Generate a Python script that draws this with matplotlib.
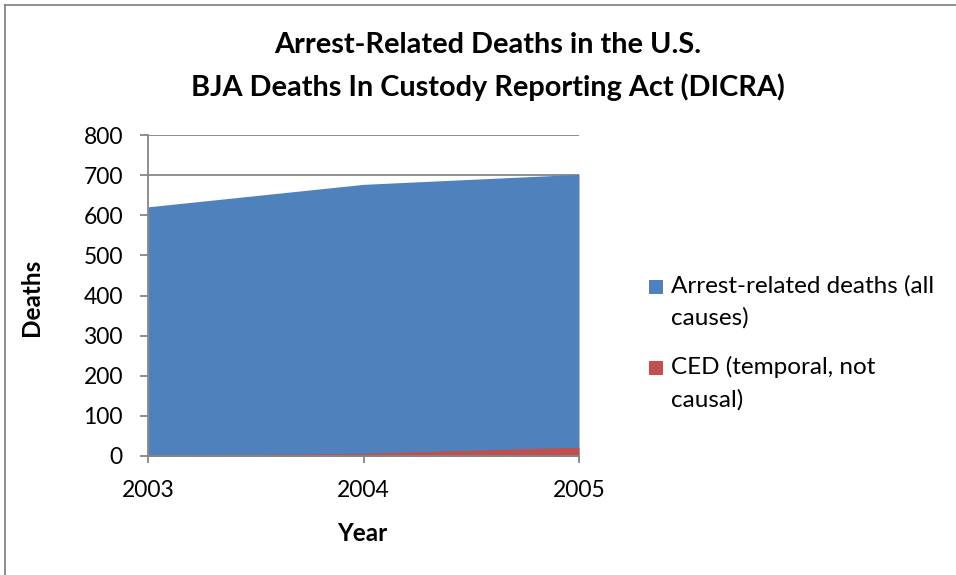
import matplotlib
matplotlib.use("Agg")
import matplotlib.pyplot as plt
from matplotlib.patches import Rectangle
from matplotlib.lines import Line2D

plt.rcParams['font.family'] = ['Lato', 'DejaVu Sans']

years = ["2003", "2004", "2005"]
arrest_deaths = [621, 677, 702]
ced_deaths = [1, 7, 22]
series_labels = ["Arrest-related deaths (all\ncauses)", "CED (temporal, not\ncausal)"]
yticks = [0, 100, 200, 300, 400, 500, 600, 700, 800]

BLUE = "#4F81BD"
RED = "#C0504D"
GRAY = "#868686"

W, H = 956, 575
fig = plt.figure(figsize=(W / 100, H / 100), dpi=100)
fig.patch.set_facecolor("white")

# outer chart frame (only top & left visible in crop)
fig.add_artist(Line2D([4.5 / W, 4.5 / W], [0, 1 - 4.5 / H], transform=fig.transFigure, color=GRAY, lw=1.3))
fig.add_artist(Line2D([4.5 / W, 1], [1 - 4.5 / H, 1 - 4.5 / H], transform=fig.transFigure, color=GRAY, lw=1.3))

ax = fig.add_axes([148 / W, (H - 456) / H, 431 / W, 321 / H])
x = list(range(len(years)))
ax.fill_between(x, 0, arrest_deaths, color=BLUE, lw=0, zorder=2)
ax.fill_between(x, 0, ced_deaths, color=RED, lw=0, zorder=3)

ax.set_xlim(0, len(years) - 1)
ax.set_ylim(0, 800)
ax.set_yticks(yticks)
ax.set_xticks(x)
ax.set_xticklabels(years)
ax.yaxis.grid(True, color=GRAY, lw=1.3, zorder=1)
ax.set_axisbelow(True)
for s in ["top", "right"]:
    ax.spines[s].set_visible(False)
for s in ["left", "bottom"]:
    ax.spines[s].set_color(GRAY)
    ax.spines[s].set_linewidth(1.3)
    ax.spines[s].set_zorder(4)
ax.tick_params(axis="y", direction="out", length=6, width=1.3, color=GRAY, pad=12, labelsize=16.5)
ax.tick_params(axis="x", direction="out", length=5, width=1.3, color=GRAY, pad=12, labelsize=16.5)

ax.set_ylabel("Deaths", fontsize=17.5, fontweight="bold")
ax.yaxis.set_label_coords((43 - 148) / 431, 0.495)
ax.set_xlabel("Year", fontsize=17.5, fontweight="bold")
ax.xaxis.set_label_coords(0.497, -0.205)

fig.text(488 / W, 1 - 45 / H, "Arrest-Related Deaths in the U.S.", ha="center", va="center",
         fontsize=20.8, fontweight="bold")
fig.text(488 / W, 1 - 87 / H, "BJA Deaths In Custody Reporting Act (DICRA)", ha="center", va="center",
         fontsize=20.8, fontweight="bold")

# legend (manual, square aligned with first text line)
leg_colors = [BLUE, RED]
leg_y = [287, 368]
for col, yy, lab in zip(leg_colors, leg_y, series_labels):
    fig.add_artist(Rectangle((649 / W, 1 - (yy + 7) / H), 14 / W, 14 / H, transform=fig.transFigure,
                             facecolor=col, edgecolor="none"))
    fig.text(671 / W, 1 - (yy - 12) / H, lab, ha="left", va="top", fontsize=17.5, linespacing=1.6)

fig.savefig("out.png", dpi=100, facecolor="white")
